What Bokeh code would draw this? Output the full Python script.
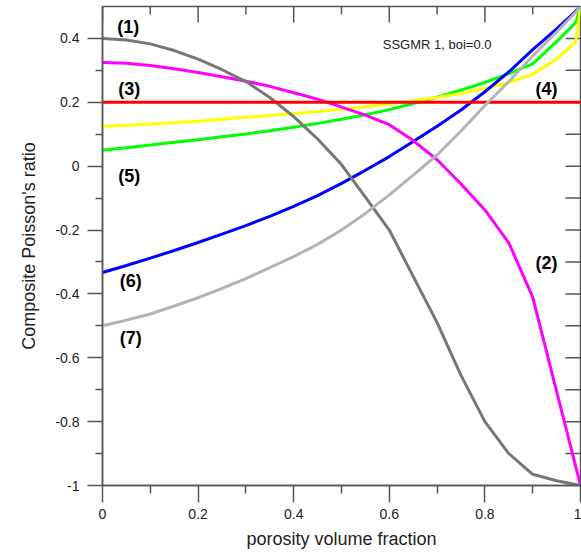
import math
from bokeh.plotting import figure
from bokeh.models import LinearAxis, FixedTicker, Range1d, ColumnDataSource
from bokeh.core.properties import value
from bokeh.embed import file_html
from bokeh.resources import INLINE

# ---------------- data ----------------
phi = [0.0, 0.05, 0.1, 0.15, 0.2, 0.25, 0.3, 0.35, 0.4, 0.45, 0.5,
       0.55, 0.6, 0.65, 0.7, 0.75, 0.8, 0.85, 0.9, 0.95, 0.99, 1.0]

curve1_darkgray = [0.40, 0.395, 0.383, 0.362, 0.335, 0.302, 0.265, 0.215, 0.155, 0.085, 0.005,
                   -0.097, -0.2, -0.345, -0.49, -0.655, -0.8, -0.9, -0.965, -0.985, -0.997, -1.0]
curve2_magenta = [0.325, 0.322, 0.315, 0.305, 0.293, 0.28, 0.266, 0.25, 0.23, 0.21, 0.185,
                  0.16, 0.13, 0.08, 0.02, -0.056, -0.137, -0.24, -0.41, -0.705, -0.94, -1.0]
curve3_red = [0.2] * len(phi)
curve4_yellow = [0.125, 0.128, 0.132, 0.136, 0.141, 0.147, 0.153, 0.159, 0.165, 0.171, 0.178,
                 0.186, 0.195, 0.205, 0.215, 0.228, 0.243, 0.262, 0.288, 0.335, 0.39, 0.5]
curve5_green = [0.05, 0.058, 0.066, 0.075, 0.083, 0.092, 0.101, 0.111, 0.122, 0.134, 0.147,
                0.161, 0.177, 0.196, 0.216, 0.238, 0.262, 0.29, 0.32, 0.39, 0.45, 0.5]
curve6_blue = [-0.333, -0.311, -0.288, -0.264, -0.239, -0.213, -0.186, -0.157, -0.126, -0.092, -0.054,
               -0.013, 0.03, 0.077, 0.125, 0.176, 0.233, 0.295, 0.365, 0.43, 0.485, 0.5]
curve7_lightgray = [-0.5, -0.482, -0.463, -0.438, -0.412, -0.383, -0.352, -0.318, -0.283, -0.245, -0.2,
                    -0.148, -0.09, -0.028, 0.035, 0.11, 0.19, 0.265, 0.345, 0.42, 0.482, 0.5]

curve_tags = ["(1)", "(2)", "(3)", "(4)", "(5)", "(6)", "(7)"]
note_text = "SSGMR 1, boi=0.0"

x_ticks = [0.0, 0.2, 0.4, 0.6, 0.8, 1.0]
x_tick_labels = ["0", "0.2", "0.4", "0.6", "0.8", "1"]
y_ticks = [-1.0, -0.8, -0.6, -0.4, -0.2, 0.0, 0.2, 0.4]
y_tick_labels = ["-1", "-0.8", "-0.6", "-0.4", "-0.2", "0", "0.2", "0.4"]
x_minor = [0.1, 0.3, 0.5, 0.7, 0.9]
y_minor = [-0.9, -0.7, -0.5, -0.3, -0.1, 0.1, 0.3]

X_MIN, X_MAX, Y_MIN, Y_MAX = 0.0, 1.0, -1.0, 0.5

# ---------------- figure ----------------
FONT = "Liberation Sans"
AX = "#555555"

p = figure(width=581, height=557, output_backend="svg", toolbar_location=None,
           x_range=Range1d(X_MIN, X_MAX), y_range=Range1d(Y_MIN, Y_MAX),
           x_axis_type=None, y_axis_type=None,
           min_border_left=102, min_border_right=1, min_border_top=6, min_border_bottom=72)
p.grid.visible = False
p.outline_line_color = AX
p.outline_line_width = 1.5
p.background_fill_color = "white"
p.border_fill_color = "white"

xt = FixedTicker(ticks=x_ticks, minor_ticks=x_minor)
yt = FixedTicker(ticks=y_ticks, minor_ticks=y_minor)

def style(ax):
    ax.axis_line_color = AX
    ax.axis_line_width = 1.5
    ax.major_tick_line_color = AX
    ax.minor_tick_line_color = AX
    ax.major_tick_line_width = 1.5
    ax.minor_tick_line_width = 1.5
    ax.major_label_text_font = FONT
    ax.major_label_text_font_size = "14px"
    ax.major_label_text_color = "#222222"
    ax.axis_label_text_font = FONT
    ax.axis_label_text_font_size = "18px"
    ax.axis_label_text_font_style = "normal"
    ax.axis_label_text_color = "#222222"

xb = LinearAxis(ticker=xt, axis_label="porosity volume fraction")
xb.major_label_overrides = {t: s for t, s in zip(x_ticks, x_tick_labels)}
style(xb)
xb.major_tick_out = 17; xb.major_tick_in = 0
xb.minor_tick_out = 8; xb.minor_tick_in = 0
xb.major_label_standoff = 6
xb.axis_label_standoff = 7
p.add_layout(xb, "below")

yl = LinearAxis(ticker=yt, axis_label="Composite Poisson's ratio")
yl.major_label_overrides = {t: s for t, s in zip(y_ticks, y_tick_labels)}
style(yl)
yl.major_tick_out = 15; yl.major_tick_in = 0
yl.minor_tick_out = 7; yl.minor_tick_in = 0
yl.major_label_standoff = 8
yl.axis_label_standoff = 13
p.add_layout(yl, "left")

# inward ticks on the top and right frame edges (half of each dash is clipped by the frame)
p.scatter(x=x_ticks, y=[Y_MAX] * len(x_ticks), marker="dash", angle=math.pi / 2, size=32,
          line_color=AX, line_width=1.5)
p.scatter(x=x_minor, y=[Y_MAX] * len(x_minor), marker="dash", angle=math.pi / 2, size=16,
          line_color=AX, line_width=1.5)
p.scatter(x=[X_MAX] * (len(y_ticks) + len(y_minor)), y=y_ticks + y_minor, marker="dash",
          size=30, line_color=AX, line_width=1.5)

# ---------------- curves ----------------
src = ColumnDataSource(dict(phi=phi, c1=curve1_darkgray, c2=curve2_magenta, c3=curve3_red,
                            c4=curve4_yellow, c5=curve5_green, c6=curve6_blue, c7=curve7_lightgray))
LW = 3
p.line("phi", "c5", source=src, line_color="#00ff00", line_width=LW)
p.line("phi", "c4", source=src, line_color="#ffff00", line_width=LW)
p.line("phi", "c6", source=src, line_color="#0000ff", line_width=LW)
p.line("phi", "c2", source=src, line_color="#ff00ff", line_width=LW)
p.line("phi", "c1", source=src, line_color="#777777", line_width=LW)
p.line("phi", "c3", source=src, line_color="#ff0000", line_width=LW)
p.line("phi", "c7", source=src, line_color="#b4b4b4", line_width=LW)

# ---------------- annotations ----------------
tag_x = [0.054, 0.929, 0.056, 0.929, 0.056, 0.059, 0.059]
tag_y = [0.437, -0.303, 0.241, 0.241, -0.031, -0.359, -0.537]
p.text(x=tag_x, y=tag_y, text=curve_tags, text_font=value(FONT), text_font_size="18px",
       text_font_style="bold", text_color="black", text_align="center", text_baseline="middle")
p.text(x=[0.70], y=[0.381], text=[note_text], text_font=value(FONT), text_font_size="13px",
       text_color="#222222", text_align="center", text_baseline="middle")

open("out.html", "w").write(file_html(p, INLINE))
